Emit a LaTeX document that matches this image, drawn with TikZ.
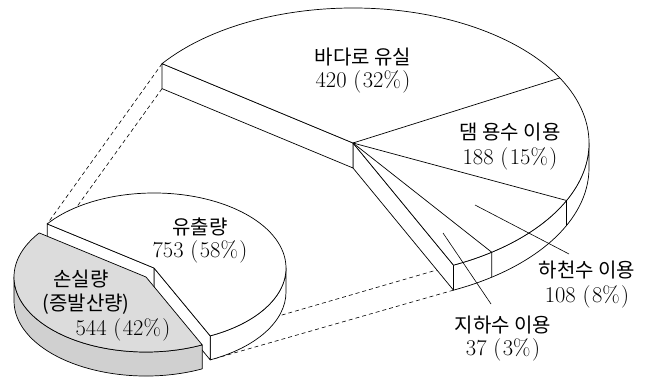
\documentclass[tikz,border=0pt]{standalone}
\usepackage{fontspec}
\newfontfamily\kr{Noto Sans CJK KR}
\usetikzlibrary{calc}
\definecolor{graytop}{RGB}{220,220,220}
\definecolor{grayside}{RGB}{208,208,208}
\newcommand{\pct}[2]{#1 (\kern1.5pt#2\kern1.5pt)}
\tikzset{
  edge/.style={line width=0.7pt, line join=round},
  dashline/.style={line width=0.6pt, dash pattern=on 4pt off 3pt},
  kor/.style={font=\kr\fontsize{20}{24}\selectfont, inner sep=0pt},
  num/.style={font=\fontsize{22.5}{26}\selectfont, inner sep=0pt},
  ptr/.style={line width=0.6pt},
}
\begin{document}
\begin{tikzpicture}[x=1pt,y=1pt]
\useasboundingbox (0,0) rectangle (658,376);
% ---------- big pie geometry ----------
\def\BR{236}\def\Br{135}\def\Bh{25}
\coordinate (BC) at (353,233);
\coordinate (BCd) at ($(BC)+(0,-\Bh)$);
\coordinate (B144) at ($(BC)+(144:236 and 135)$);
\coordinate (B144d) at ($(B144)+(0,-\Bh)$);
\coordinate (B28) at ($(BC)+(28.8:236 and 135)$);
\coordinate (B25) at ($(BC)+(-25.2:236 and 135)$);
\coordinate (B25d) at ($(B25)+(0,-\Bh)$);
\coordinate (B54) at ($(BC)+(-54:236 and 135)$);
\coordinate (B54d) at ($(B54)+(0,-\Bh)$);
\coordinate (B65) at ($(BC)+(-64.8:236 and 135)$);
\coordinate (B65d) at ($(B65)+(0,-\Bh)$);
\coordinate (B0) at ($(BC)+(0:236 and 135)$);
% ---------- small pie geometry ----------
\def\Sh{24}
\coordinate (WC) at (154,108);
\coordinate (WCd) at ($(WC)+(0,-\Sh)$);
\coordinate (W144) at ($(WC)+(144:132 and 75)$);
\coordinate (W144d) at ($(W144)+(0,-\Sh)$);
\coordinate (W65) at ($(WC)+(-64.8:132 and 75)$);
\coordinate (W65d) at ($(W65)+(0,-\Sh)$);
\coordinate (W0) at ($(WC)+(0:132 and 75)$);
\coordinate (GC) at (146,99);
\coordinate (G144) at ($(GC)+(144:132 and 75)$);
\coordinate (G180) at ($(GC)+(180:132 and 75)$);
\coordinate (G295) at ($(GC)+(295.2:132 and 75)$);
\coordinate (G295d) at ($(G295)+(0,-\Sh)$);
% ---------- dashed projection lines ----------
\draw[dashline] (B144) -- (W144);
\draw[dashline] (B144d) -- (W144d);
\draw[dashline] (B65) -- (W65);
\draw[dashline] (B65d) -- (W65d);
% ---------- big pie ----------
\draw[edge, fill=white] (B0) arc[start angle=0, end angle=-64.8, x radius=\BR, y radius=\Br]
  -- (B65d) arc[start angle=-64.8, end angle=0, x radius=\BR, y radius=\Br] -- cycle;
\draw[edge, fill=white] (BC) -- (B65) -- (B65d) -- (BCd) -- cycle;
\draw[edge, fill=white] (BC) -- (B144) -- (B144d) -- (BCd) -- cycle;
\draw[edge, fill=white] (BC) -- (B144) arc[start angle=144, end angle=-64.8, x radius=\BR, y radius=\Br] -- cycle;
\draw[edge] (BC) -- (B28);
\draw[edge] (BC) -- (B25) -- (B25d);
\draw[edge] (BC) -- (B54) -- (B54d);
% ---------- small pie: white part ----------
\draw[edge, fill=white] (W0) arc[start angle=0, end angle=-64.8, x radius=132, y radius=75]
  -- (W65d) arc[start angle=-64.8, end angle=0, x radius=132, y radius=75] -- cycle;
\draw[edge, fill=white] (WC) -- (W65) -- (W65d) -- (WCd) -- cycle;
\draw[edge, fill=white] (WC) -- (W144) -- (W144d) -- (WCd) -- cycle;
\draw[edge, fill=white] (WC) -- (W144) arc[start angle=144, end angle=-64.8, x radius=132, y radius=75] -- cycle;
% ---------- small pie: gray part ----------
\draw[edge, fill=grayside] (G180) arc[start angle=180, end angle=295.2, x radius=132, y radius=75]
  -- (G295d) arc[start angle=295.2, end angle=180, x radius=132, y radius=75] -- cycle;
\draw[edge, fill=graytop] (GC) -- (G144) arc[start angle=144, end angle=295.2, x radius=132, y radius=75] -- cycle;
% ---------- pointer lines ----------
\coordinate (P1a) at (475,171); \coordinate (P1b) at (569,122);
\coordinate (P2a) at (443,143); \coordinate (P2b) at (491,72);
\draw[ptr] (P1a) -- (P1b);
\draw[ptr] (P2a) -- (P2b);
% ---------- labels ----------
\node[kor] (t1) at (363,319) {바다로 유실};
\node[num] (n1) at (363,294) {\pct{420}{32\%}};
\node[kor] (t2) at (510,244) {댐 용수 이용};
\node[num] (n2) at (510,217) {\pct{188}{15\%}};
\node[kor] (t3) at (587,106) {하천수 이용};
\node[num] (n3) at (587,79) {\pct{108}{8\%}};
\node[kor] (t4) at (503,51) {지하수 이용};
\node[num] (n4) at (503,26) {\pct{37}{3\%}};
\node[kor] (t5) at (200,149) {유출량};
\node[num] (n5) at (200,124) {\pct{753}{58\%}};
\node[kor] (t6) at (81,97) {손실량};
\node[kor] (t7) at (86,72) {(증발산량)};
\node[num] (n6) at (123,46) {\pct{544}{42\%}};
\end{tikzpicture}
\end{document}
